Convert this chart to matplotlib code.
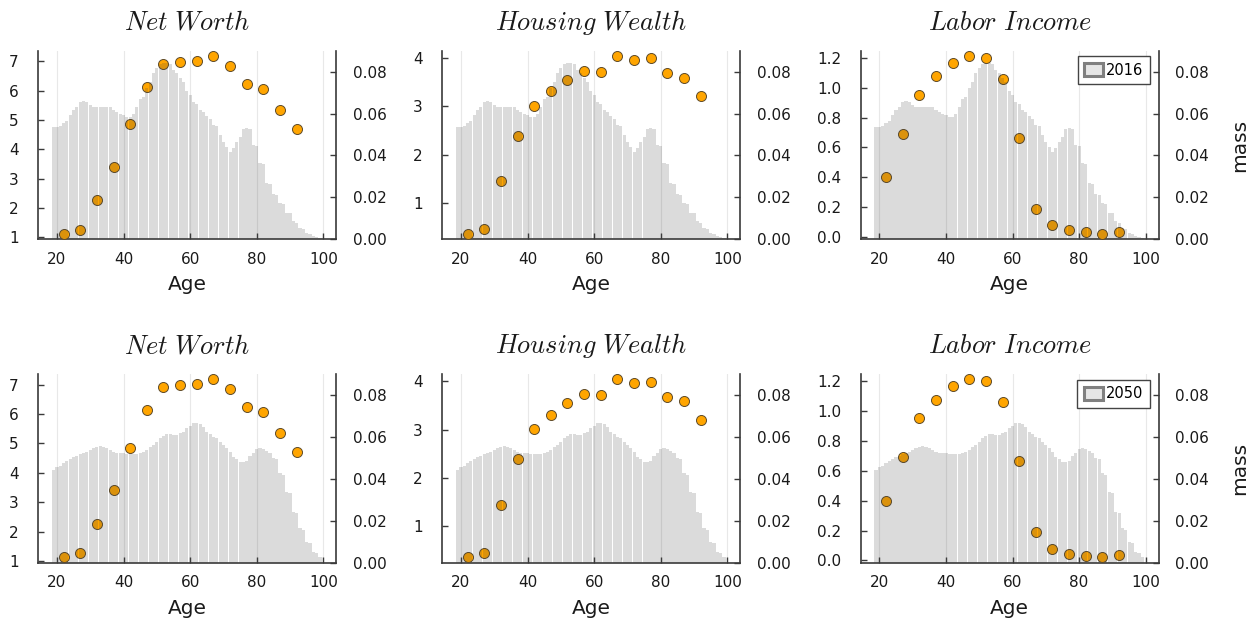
"""
Life-cycle profiles by age (net worth, housing wealth, labor income)
drawn over the population age distribution for 2016 and 2050.
"""

import numpy as np
import matplotlib
matplotlib.use("Agg")
import matplotlib.pyplot as plt
from matplotlib.patches import Patch
from matplotlib.ticker import FormatStrFormatter

plt.rcParams["mathtext.fontset"] = "cm"
plt.rcParams["font.family"] = "DejaVu Sans"

# population mass by single year of age
AGES = np.arange(19, 100)
MASS_2016 = [
    0.0535, 0.0537, 0.0540, 0.0554, 0.0566, 0.0593, 0.0617, 0.0633, 0.0655, 0.0659,
    0.0655, 0.0641, 0.0630, 0.0630, 0.0630, 0.0633, 0.0633, 0.0630, 0.0617, 0.0609,
    0.0598, 0.0593, 0.0582, 0.0585, 0.0598, 0.0633, 0.0668, 0.0678, 0.0721, 0.0752,
    0.0792, 0.0816, 0.0835, 0.0842, 0.0840, 0.0835, 0.0810, 0.0795, 0.0768, 0.0752,
    0.0710, 0.0689, 0.0657, 0.0646, 0.0617, 0.0609, 0.0589, 0.0573, 0.0546, 0.0541,
    0.0498, 0.0466, 0.0442, 0.0418, 0.0434, 0.0466, 0.0490, 0.0525, 0.0530, 0.0525,
    0.0450, 0.0447, 0.0366, 0.0360, 0.0270, 0.0266, 0.0215, 0.0212, 0.0175, 0.0168,
    0.0127, 0.0124, 0.0087, 0.0080, 0.0052, 0.0048, 0.0032, 0.0025, 0.0016, 0.0010,
    0.0005,
]
MASS_2050 = [
    0.0442, 0.0455, 0.0461, 0.0474, 0.0485, 0.0493, 0.0503, 0.0509, 0.0519, 0.0525,
    0.0530, 0.0538, 0.0546, 0.0551, 0.0557, 0.0554, 0.0549, 0.0538, 0.0530, 0.0525,
    0.0525, 0.0522, 0.0519, 0.0519, 0.0519, 0.0519, 0.0522, 0.0530, 0.0538, 0.0551,
    0.0562, 0.0577, 0.0594, 0.0605, 0.0614, 0.0614, 0.0609, 0.0609, 0.0617, 0.0625,
    0.0641, 0.0652, 0.0665, 0.0668, 0.0662, 0.0649, 0.0625, 0.0614, 0.0601, 0.0594,
    0.0577, 0.0562, 0.0546, 0.0530, 0.0506, 0.0493, 0.0482, 0.0482, 0.0485, 0.0509,
    0.0522, 0.0541, 0.0546, 0.0541, 0.0534, 0.0525, 0.0498, 0.0493, 0.0427, 0.0420,
    0.0339, 0.0334, 0.0243, 0.0236, 0.0164, 0.0157, 0.0100, 0.0095, 0.0052, 0.0048,
    0.0029,
]

# profiles by 5-year age group
PROFILE_AGES = [22, 27, 32, 37, 42, 47, 52, 57, 62, 67, 72, 77, 82, 87, 92]
NET_WORTH = [1.12, 1.26, 2.27, 3.41, 4.86, 6.14, 6.92, 6.98, 7.01, 7.18,
             6.85, 6.24, 6.07, 5.35, 4.71]
HOUSING_WEALTH = [0.36, 0.46, 1.45, 2.39, 3.01, 3.31, 3.55, 3.73, 3.71, 4.04,
                  3.96, 3.99, 3.68, 3.59, 3.21]
LABOR_INCOME = [0.40, 0.69, 0.955, 1.078, 1.167, 1.213, 1.20, 1.06, 0.665, 0.189,
                0.078, 0.044, 0.031, 0.020, 0.033]

TITLES = [r"$Net\ Worth$", r"$Housing\ Wealth$", r"$Labor\ Income$"]
PROFILES = [NET_WORTH, HOUSING_WEALTH, LABOR_INCOME]
LEFT_TICKS = [[1, 2, 3, 4, 5, 6, 7], [1, 2, 3, 4], [0.0, 0.2, 0.4, 0.6, 0.8, 1.0, 1.2]]
LEFT_FORMATS = ["%d", "%d", "%.1f"]
AGE_TICKS = [20, 40, 60, 80, 100]
MASS_TICKS = [0.00, 0.02, 0.04, 0.06, 0.08]
YEARS = ["2016", "2050"]
MASSES = [MASS_2016, MASS_2050]

BAR_COLOR = (0.25, 0.25, 0.25, 0.19)
DOT_COLOR = "#FFA500"
AXIS_COLOR = "#3a3a3a"
TEXT_COLOR = "#1a1a1a"


def style_axis(ax, pad):
    ax.tick_params(direction="in", length=4.5, width=1.0, color=AXIS_COLOR,
                   labelsize=11, labelcolor=TEXT_COLOR, pad=pad)
    ax.tick_params(axis="x", pad=9)
    for side in ax.spines:
        ax.spines[side].set_color(AXIS_COLOR)
        ax.spines[side].set_linewidth(1.2)


def draw_panel(fig, rect, col, mass, year):
    ax = fig.add_axes(rect)
    values = PROFILES[col]

    ax.scatter(PROFILE_AGES, values, s=52, color=DOT_COLOR,
               edgecolor="#5e4b2a", linewidth=0.7, zorder=3)
    lo, hi = min(values), max(values)
    pad = 0.03 * (hi - lo)
    ax.set_ylim(lo - pad, hi + pad)
    ax.set_xlim(14.4, 103.9)
    ax.set_xticks(AGE_TICKS)
    ax.set_yticks(LEFT_TICKS[col])
    ax.yaxis.set_major_formatter(FormatStrFormatter(LEFT_FORMATS[col]))
    ax.grid(axis="x", color="#e8e8e8", linewidth=0.8)
    ax.set_axisbelow(True)
    ax.spines["top"].set_visible(False)
    ax.spines["right"].set_visible(False)
    style_axis(ax, 14)
    ax.set_xlabel("Age", fontsize=14.5, color=TEXT_COLOR, labelpad=6)
    ax.set_title(TITLES[col], fontsize=19, pad=15, color=TEXT_COLOR)

    # population distribution on the secondary axis
    ax2 = ax.twinx()
    ax2.bar(AGES, mass, width=0.94, color=BAR_COLOR, linewidth=0)
    ax2.set_ylim(0, 0.09)
    ax2.set_yticks(MASS_TICKS)
    ax2.yaxis.set_major_formatter(FormatStrFormatter("%.2f"))
    for side in ["top", "left", "bottom"]:
        ax2.spines[side].set_visible(False)
    style_axis(ax2, 12)

    if col == 2:
        ax2.set_ylabel("mass", fontsize=14.5, color=TEXT_COLOR, labelpad=15)
        handle = Patch(facecolor="#e6e6e6", edgecolor="#808080", linewidth=2.2)
        leg = ax2.legend([handle], [year], loc="upper right",
                         bbox_to_anchor=(0.97, 0.97), fontsize=10.5,
                         fancybox=False, framealpha=1, edgecolor="#444444",
                         handlelength=1.3, handleheight=1.0, handletextpad=0.2,
                         borderpad=0.45, borderaxespad=0)
        leg.get_frame().set_linewidth(1.0)


def main():
    W, H = 1254, 625
    fig = plt.figure(figsize=(W / 100, H / 100), dpi=100)
    lefts = [38.3, 442.3, 860.7]
    width = 298.0
    bottoms = [239.3, 562.7]
    height = 188.6

    for row in range(2):
        for col in range(3):
            rect = [lefts[col] / W, 1 - bottoms[row] / H, width / W, height / H]
            draw_panel(fig, rect, col, MASSES[row], YEARS[row])

    fig.savefig("out.png", dpi=100)
    plt.close(fig)


if __name__ == "__main__":
    main()
